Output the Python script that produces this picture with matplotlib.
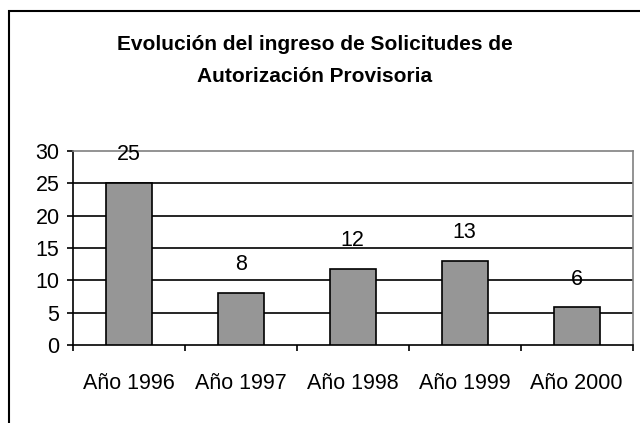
import matplotlib
matplotlib.use('Agg')
from matplotlib import pyplot as plt
from matplotlib.patches import Rectangle

# datos
anios = ['Año 1996', 'Año 1997', 'Año 1998', 'Año 1999', 'Año 2000']
solicitudes = [25, 8, 11.7, 13, 5.8]
etiquetas = ['25', '8', '12', '13', '6']

plt.rcParams['font.family'] = ['Liberation Sans', 'DejaVu Sans']

W, H = 640, 423
fig = plt.figure(figsize=(W / 100, H / 100), dpi=100)
ax = fig.add_axes([72.7 / W, 1 - 345 / H, 560 / W, 194 / H])

# marco exterior
fig.patches.append(Rectangle((9 / W, -0.1), 1.2, 1.1 - 11 / H, transform=fig.transFigure,
                             fill=False, edgecolor='black', linewidth=1.5))

x = list(range(len(anios)))
ax.bar(x, solicitudes, width=0.41, color='#969696', edgecolor='black', linewidth=1.2, zorder=3)

# etiquetas de datos
for xi, v, t in zip(x, solicitudes, etiquetas):
    ax.annotate(t, (xi, v), xytext=(0, 20.5), textcoords='offset points',
                ha='center', va='center', fontsize=15.5, zorder=4)

ax.set_xlim(-0.5, 4.5)
ax.set_ylim(0, 30)
ax.set_yticks(range(0, 31, 5))
for yv in range(5, 30, 5):
    ax.axhline(yv, color='black', linewidth=1.2, zorder=1)

ax.set_xticks(x)
ax.set_xticklabels(anios)
ax.set_xticks([i - 0.5 for i in range(len(anios) + 1)], minor=True)
ax.tick_params(axis='x', which='major', length=0, pad=20, labelsize=15.5)
ax.tick_params(axis='x', which='minor', length=4.5, width=1.2, direction='out')
ax.tick_params(axis='y', length=4.5, width=1.2, pad=5, labelsize=15.5)

for s in ['left', 'bottom']:
    ax.spines[s].set_linewidth(1.2)
for s in ['top', 'right']:
    ax.spines[s].set_color('#808080')
    ax.spines[s].set_linewidth(1.2)

# titulo
fig.text(315 / W, 1 - 44 / H, 'Evolución del ingreso de Solicitudes de',
         ha='center', va='center', fontsize=15, fontweight='bold')
fig.text(315 / W, 1 - 76 / H, 'Autorización Provisoria',
         ha='center', va='center', fontsize=15, fontweight='bold')

fig.savefig('out.png', dpi=100)
